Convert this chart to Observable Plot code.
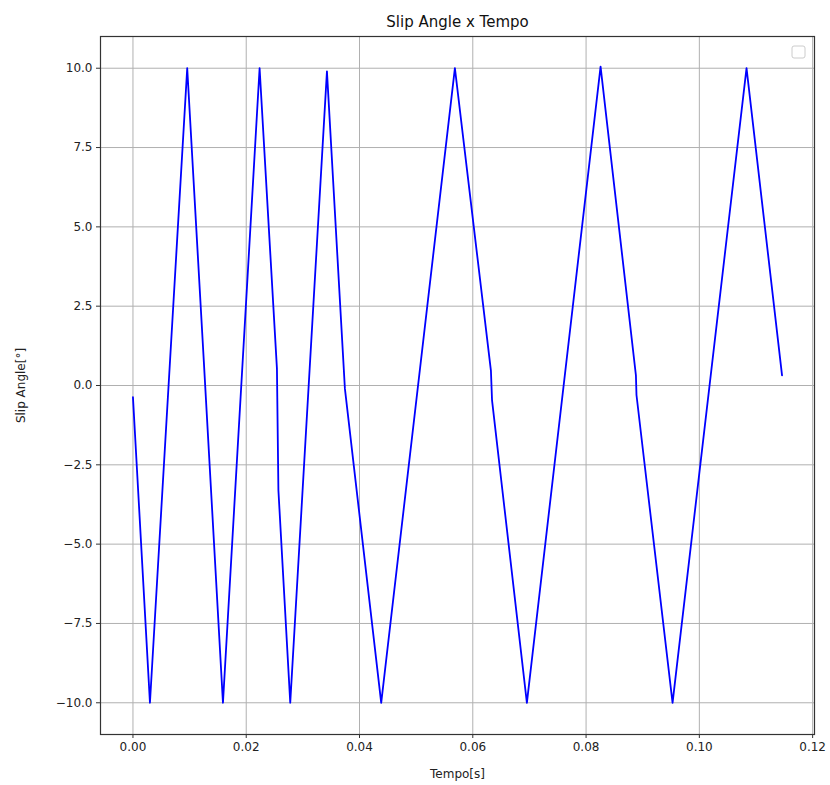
<!DOCTYPE html>
<html>
<head>
<meta charset="utf-8">
<script src="https://cdn.jsdelivr.net/npm/d3@7"></script>
<script src="https://cdn.jsdelivr.net/npm/@observablehq/plot@0.6"></script>
<style>
  html, body { margin: 0; padding: 0; background: #fff; }
  #chart { width: 830px; height: 785px; }
</style>
</head>
<body>
<div id="chart"></div>
<script>
// Slip angle time history (triangular sweep between ±10°)
const tempo = [0, 0.0030, 0.00958, 0.0125, 0.01589, 0.02236, 0.02542, 0.02568, 0.02777,
               0.03425, 0.03742, 0.04383, 0.05684, 0.0632, 0.0634, 0.06955, 0.08256,
               0.0888, 0.0889, 0.09527, 0.10833, 0.1146];
const slipAngle = [-0.37, -10, 10, 0.8, -10, 10, 0.54, -3.3, -10,
                   9.9, -0.1, -10, 10, 0.47, -0.47, -10, 10.05,
                   0.32, -0.3, -10, 10, 0.32];

const xTicks = [0, 0.02, 0.04, 0.06, 0.08, 0.10, 0.12];
const yTicks = [-10, -7.5, -5, -2.5, 0, 2.5, 5, 7.5, 10];

const title = "Slip Angle x Tempo";
const xLabel = "Tempo[s]";
const yLabel = "Slip Angle[°]";

const data = tempo.map((t, i) => ({t, v: slipAngle[i]}));

// axis limits with 5% padding around the data
const xPad = (d3.max(tempo) - d3.min(tempo)) * 0.05;

const W = 830, H = 785;
const M = {top: 36, right: 16, bottom: 51, left: 100};
const gridColor = "#b0b0b0";
const spineColor = "#333";

const chart = Plot.plot({
  width: W,
  height: H,
  marginTop: M.top,
  marginRight: M.right,
  marginBottom: M.bottom,
  marginLeft: M.left,
  style: {fontFamily: "DejaVu Sans, sans-serif", fontSize: "12px", color: "#222", background: "#fff"},
  x: {domain: [d3.min(tempo) - xPad, d3.max(tempo) + xPad]},
  y: {domain: [-11, 11]},
  marks: [
    Plot.gridX(xTicks, {stroke: gridColor, strokeOpacity: 1, strokeWidth: 1}),
    Plot.gridY(yTicks, {stroke: gridColor, strokeOpacity: 1, strokeWidth: 1}),
    Plot.line(data, {x: "t", y: "v", stroke: "#0000ff", strokeWidth: 1.8}),
    Plot.frame({stroke: spineColor, strokeWidth: 1.2}),
    Plot.axisX(xTicks, {
      tickFormat: d3.format(".2f"), tickSize: 4, tickPadding: 4, fontSize: 12,
      stroke: spineColor,
      label: xLabel, labelAnchor: "center", labelOffset: 43, labelArrow: false
    }),
    Plot.axisY(yTicks, {
      tickFormat: d3.format(".1f"), tickSize: 4, tickPadding: 4, fontSize: 12,
      stroke: spineColor,
      label: yLabel, labelAnchor: "center", labelOffset: 84, labelArrow: false
    }),
    Plot.text([title], {frameAnchor: "top", dy: -20, fontSize: 15, fill: "#111"})
  ]
});

// empty legend box in the upper-right corner of the axes
const svg = d3.select(chart);
svg.append("rect")
  .attr("x", W - M.right - 22)
  .attr("y", M.top + 10)
  .attr("width", 13)
  .attr("height", 12)
  .attr("rx", 2)
  .attr("fill", "#fff")
  .attr("stroke", "#ccc")
  .attr("stroke-width", 1);

document.getElementById("chart").appendChild(chart);
</script>
</body>
</html>
